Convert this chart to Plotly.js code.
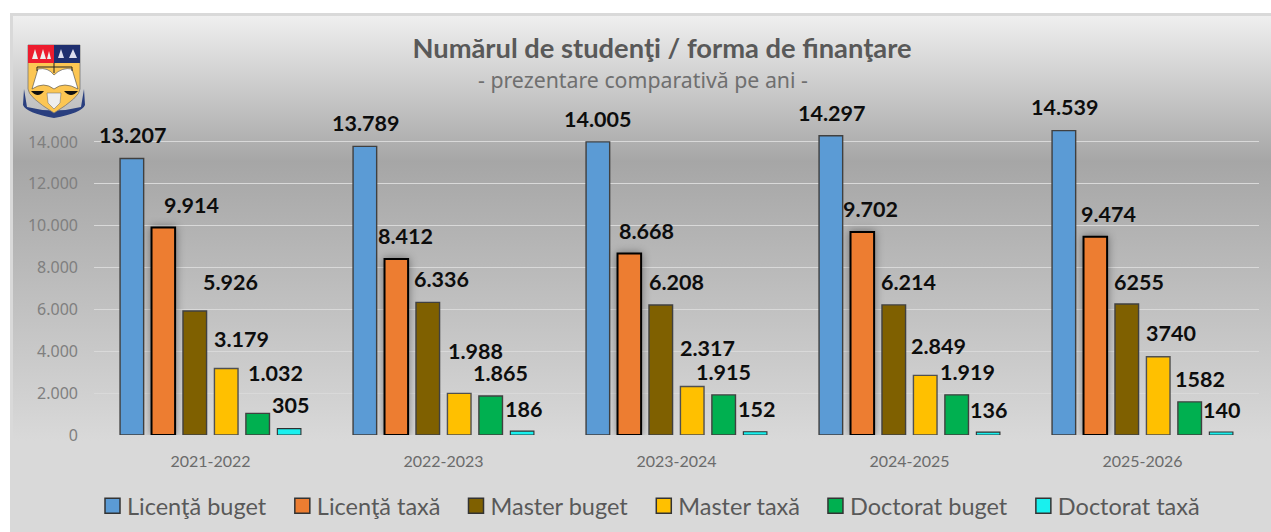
<!DOCTYPE html>
<html><head><meta charset="utf-8">
<script src="https://cdn.plot.ly/plotly-3.0.1.min.js"></script>
<style>
html,body{margin:0;padding:0;background:#fff;width:1271px;height:532px;overflow:hidden}
#panel{position:absolute;left:10px;top:13px;width:1261px;height:519px;box-sizing:border-box;
border:3px solid #d9d9d9;border-right:none;border-bottom:none;
background:linear-gradient(to bottom,#efefef 0px,#a6a6a6 145px,#d9d9d9 425px,#d9d9d9 519px)}
#chart{position:absolute;left:0;top:0;width:1271px;height:532px}
.trace.bars:nth-child(2) .point path{filter:drop-shadow(0 0 4px rgba(0,0,0,.4))}
.legendpoints path{transform:translate(30.5px,0) scale(1.25);stroke:#333333!important;stroke-width:1.2px!important}
</style></head><body>
<div id="panel"></div><div id="chart"></div>
<script>
const categories=['2021-2022','2022-2023','2023-2024','2024-2025','2025-2026'];
const seriesNames=['Licenţă buget','Licenţă taxă','Master buget','Master taxă','Doctorat buget','Doctorat taxă'];
const colors=['#5B9BD5','#ED7D31','#7F6000','#FFC000','#00B050','#19F0EE'];
const lineColors=['#404040','#000000','#404040','#505050','#404040','#303030'];
const lineWidths=[1.4,2,1.4,1.4,1.4,1.1];
const licentaBuget=[13207,13789,14005,14297,14539];
const licentaTaxa=[9914,8412,8668,9702,9474];
const masterBuget=[5926,6336,6208,6214,6255];
const masterTaxa=[3179,1988,2317,2849,3740];
const doctoratBuget=[1032,1865,1915,1919,1582];
const doctoratTaxa=[305,186,152,136,140];
const labelsLB=['13.207','13.789','14.005','14.297','14.539'];
const labelsLT=['9.914','8.412','8.668','9.702','9.474'];
const labelsMB=['5.926','6.336','6.208','6.214','6255'];
const labelsMT=['3.179','1.988','2.317','2.849','3740'];
const labelsDB=['1.032','1.865','1.915','1.919','1582'];
const labelsDT=['305','186','152','136','140'];
const yTicks=[0,2000,4000,6000,8000,10000,12000,14000];
const yTickText=['0','2.000','4.000','6.000','8.000','10.000','12.000','14.000'];

const values=[licentaBuget,licentaTaxa,masterBuget,masterTaxa,doctoratBuget,doctoratTaxa];
const labelTexts=[labelsLB,labelsLT,labelsMB,labelsMT,labelsDB,labelsDT];
// label centre offsets in pixels from the category centre (x) and from the bar top (y)
const labelDx=[[-78.5,-78.5,-79,-78.2,-78.5],[-19,-38.5,-29.7,-39,-34.3],[19.5,-2,0,-0.7,-3.2],[30.5,31.5,31,28.5,28.3],[65,56.5,47.3,58,57.3],[79.5,79.5,79.5,79.3,78.8]];
const labelDy=[[23.6,23.4,22.9,22.8,23.4],[22.5,23,22.9,22.9,22.7],[29,22.9,22.8,22.6,22.4],[29.5,42.4,38.5,29.1,23.4],[40.4,23,22.6,22.5,22.9],[23.6,22.6,22.8,22.5,22.4]];

const traces=seriesNames.map((n,i)=>({type:'bar',name:n,x:categories,y:values[i],cliponaxis:i!==1,
  marker:{color:colors[i],line:{color:lineColors[i],width:lineWidths[i]}},hoverinfo:'skip'}));
const annotations=[];
labelTexts.forEach((arr,s)=>arr.forEach((t,c)=>annotations.push({
  x:categories[c],y:values[s][c],xref:'x',yref:'y',text:'<b>'+t+'</b>',showarrow:false,
  xanchor:'center',yanchor:'middle',xshift:labelDx[s][c],yshift:labelDy[s][c],
  font:{family:'Lato, sans-serif',size:21.5,color:'#0d0d0d'}})));
annotations.push({xref:'paper',yref:'paper',x:(642.5-94)/1165,y:(435-80)/314,yanchor:'middle',xanchor:'center',
  showarrow:false,text:'- prezentare comparativă pe ani -',font:{family:'Noto Sans, sans-serif',size:21.3,color:'#6f6f6f'}});

const logo='data:image/svg+xml;utf8,'+encodeURIComponent(`<svg xmlns="http://www.w3.org/2000/svg" viewBox="0 0 64 76">
<path d="M2 46 L1 62 Q4 70 32 75 Q60 70 63 62 L62 46 L59 64 Q32 71 5 64 Z" fill="#2a3f7f"/>
<path d="M6 2H58V46Q58 54 32 70Q6 54 6 46Z" fill="#fcc653" stroke="#777" stroke-width=".8"/>
<rect x="6" y="2" width="26" height="18" fill="#ed1c2e"/><rect x="32" y="2" width="26" height="18" fill="#1f2f6f"/>
<path d="M10 16l3-10 3 10zM18 16l3-10 3 10zM25 16l2-8 2 8z" fill="#eee"/>
<path d="M36 15l3-9 3 9zM47 15l4-9 4 9z" fill="#dde"/>
<path d="M10 46 L16 26 Q26 24 32 32 Q40 24 50 26 L56 46 Q42 38 32 46 Q22 38 10 46Z" fill="#fff" stroke="#444" stroke-width=".6"/>
<path d="M15 24H50M32 20V30M15 24V28M50 24V28" stroke="#222" stroke-width="1" fill="none"/>
<path d="M9 48Q16 56 22 48ZM42 48Q49 56 56 48Z" fill="#111"/>
<path d="M25 50L39 50L38 60L32 66L26 60Z" fill="#eee" stroke="#666" stroke-width=".5"/>
</svg>`);

const layout={width:1271,height:532,paper_bgcolor:'rgba(0,0,0,0)',plot_bgcolor:'rgba(0,0,0,0)',
  margin:{l:94,r:12,t:121,b:97},
  font:{family:'Lato, sans-serif'},
  title:{text:'<b>Numărul de studenţi / forma de finanţare</b>',x:662/1271,xanchor:'center',y:1-48/532,yanchor:'middle',
    font:{family:'Lato, sans-serif',size:27.3,color:'#595959'}},
  barmode:'group',bargap:0.19,bargroupgap:0.25,
  xaxis:{type:'category',tickfont:{size:16,color:'#6b6b6b',family:'Lato, sans-serif'},showgrid:false,zeroline:false,showline:false,ticks:'',ticklabelstandoff:15,automargin:false},
  yaxis:{range:[0,15000],tickvals:yTicks,ticktext:yTickText,tickfont:{size:16,color:'#7f7f7f',family:'Noto Sans, sans-serif'},
    gridcolor:'#d9d9d9',gridwidth:1,zeroline:false,showline:false,ticks:'',ticklabelstandoff:15,automargin:false},
  legend:{orientation:'h',x:82/1271,y:26/532,xref:'container',yref:'container',xanchor:'left',yanchor:'middle',bgcolor:'rgba(0,0,0,0)',itemwidth:35,
    font:{size:23.5,color:'#595959',family:'Lato, sans-serif'}},
  images:[{source:logo,xref:'paper',yref:'paper',x:(22-94)/1165,y:(435-43)/314,sizex:64/1165,sizey:76/314,sizing:'stretch',xanchor:'left',yanchor:'top',layer:'above'}],
  annotations:annotations};
Plotly.newPlot('chart',traces,layout,{displayModeBar:false,staticPlot:true});
</script></body></html>
